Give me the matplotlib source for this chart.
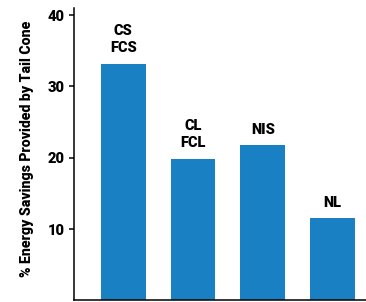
import matplotlib
matplotlib.use("Agg")
import matplotlib.pyplot as plt

categories = ["CS\nFCS", "CL\nFCL", "NIS", "NL"]
values = [33.2, 19.9, 21.8, 11.5]
yticks = [10, 20, 30, 40]
ylabel = "% Energy Savings Provided by Tail Cone"

plt.rcParams['font.family'] = ['Roboto', 'DejaVu Sans']
plt.rcParams['font.weight'] = 'bold'

fig = plt.figure(figsize=(3.66, 3.02), dpi=100)
ax = fig.add_axes([0.2014, 0.005, 0.7986, 0.9685])

x = list(range(len(values)))
bars = ax.bar(x, values, width=0.645, color='#1a80c4')
for xi, v, lab in zip(x, values, categories):
    ax.annotate(lab, (xi, v), xytext=(0, 6), textcoords='offset points',
                ha='center', va='bottom', fontsize=10.5, fontweight='heavy',
                linespacing=1.3)

ax.set_xlim(-0.71, 3.48)
ax.set_ylim(0, 41)
ax.set_yticks(yticks)
ax.set_xticks([])
ax.tick_params(axis='y', direction='out', length=3.5, width=1.1, pad=3,
               labelsize=10.5)
for lbl in ax.get_yticklabels():
    lbl.set_fontweight('heavy')
ax.spines['top'].set_visible(False)
ax.spines['right'].set_visible(False)
ax.spines['left'].set_linewidth(1.1)
ax.spines['bottom'].set_linewidth(1.1)
ax.set_ylabel(ylabel, fontsize=10.2, fontweight='heavy')
ax.yaxis.set_label_coords(-0.137, 0.52)

fig.savefig("out.png", dpi=100)
